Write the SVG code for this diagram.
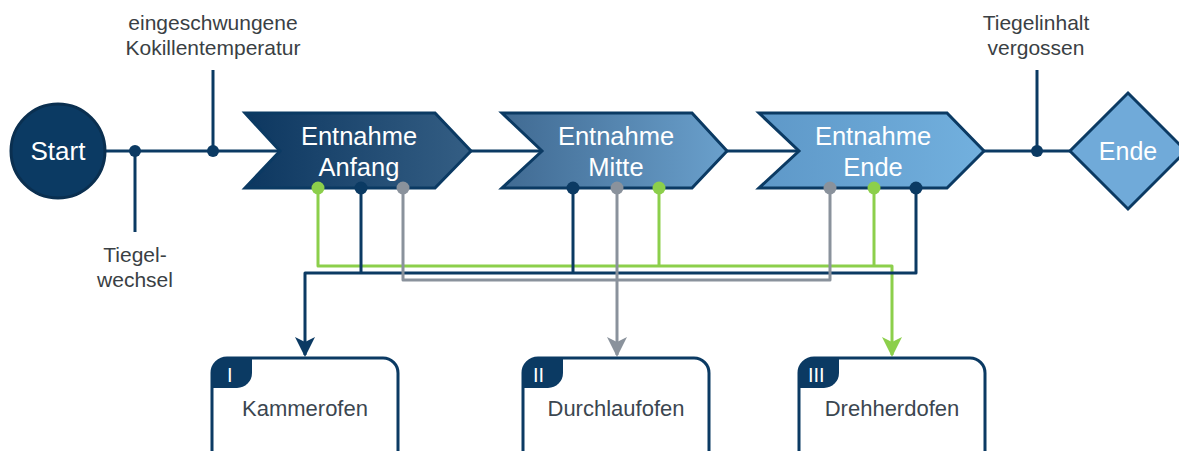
<svg xmlns="http://www.w3.org/2000/svg" width="1179" height="451" viewBox="0 0 1179 451">
  <defs>
    <linearGradient id="g1" x1="0" y1="0" x2="1" y2="0">
      <stop offset="0" stop-color="#0d3760"/>
      <stop offset="1" stop-color="#345e84"/>
    </linearGradient>
    <linearGradient id="g2" x1="0" y1="0" x2="1" y2="0">
      <stop offset="0" stop-color="#406a92"/>
      <stop offset="1" stop-color="#6aa0cc"/>
    </linearGradient>
    <linearGradient id="g3" x1="0" y1="0" x2="1" y2="0">
      <stop offset="0" stop-color="#5e98c8"/>
      <stop offset="1" stop-color="#72b0de"/>
    </linearGradient>
    <marker id="arrDark" viewBox="0 0 20 20" refX="18" refY="10" markerWidth="20" markerHeight="20" markerUnits="userSpaceOnUse" orient="auto">
      <path d="M0,0 L20,10 L0,20 L5,10 Z" fill="#0b3a63"/>
    </marker>
    <marker id="arrGray" viewBox="0 0 20 20" refX="18" refY="10" markerWidth="20" markerHeight="20" markerUnits="userSpaceOnUse" orient="auto">
      <path d="M0,0 L20,10 L0,20 L5,10 Z" fill="#8a929c"/>
    </marker>
    <marker id="arrGreen" viewBox="0 0 20 20" refX="18" refY="10" markerWidth="20" markerHeight="20" markerUnits="userSpaceOnUse" orient="auto">
      <path d="M0,0 L20,10 L0,20 L5,10 Z" fill="#8ccf4b"/>
    </marker>
  </defs>
  <style>
    .line { fill: none; stroke-width: 3; stroke-linejoin: round; }
    .dark { stroke: #0b3a63; }
    .gray { stroke: #8a929c; }
    .green { stroke: #8ccf4b; }
    .dotDark { fill: #0b3a63; }
    .dotGray { fill: #8a929c; }
    .dotGreen { fill: #8ccf4b; }
    .shape { stroke: #0b3a63; stroke-width: 3; stroke-linejoin: miter; }
    .white { font-family: "Liberation Sans", Arial, sans-serif; fill: #ffffff; text-anchor: middle; }
    .title { font-size: 25.5px; }
    .label { font-family: "Liberation Sans", Arial, sans-serif; font-size: 21px; fill: #3a3f44; text-anchor: middle; }
    .box { fill: #ffffff; stroke: #0b3a63; stroke-width: 3; }
    .tag { fill: #0b3a63; }
    .tagText { font-family: "Liberation Sans", Arial, sans-serif; font-size: 20px; fill: #ffffff; }
    .boxText { font-family: "Liberation Sans", Arial, sans-serif; font-size: 22px; fill: #3b4650; text-anchor: middle; }
  </style>

  <!-- connectors -->
  <g id="connectors">
    <!-- main flow line -->
    <line class="line dark" x1="100" y1="151" x2="280" y2="151"/>
    <line class="line dark" x1="471" y1="151" x2="542" y2="151"/>
    <line class="line dark" x1="727" y1="151" x2="799" y2="151"/>
    <line class="line dark" x1="984" y1="151" x2="1070" y2="151"/>
    <!-- event branches -->
    <line class="line dark" x1="135" y1="151" x2="135" y2="232"/>
    <line class="line dark" x1="213" y1="151" x2="213" y2="70"/>
    <line class="line dark" x1="1037" y1="151" x2="1037" y2="70"/>
    <circle class="dotDark" cx="135" cy="151" r="6"/>
    <circle class="dotDark" cx="213" cy="151" r="6"/>
    <circle class="dotDark" cx="1037" cy="151" r="6"/>

    <!-- green routing to Drehherdofen -->
    <path class="line green" d="M318,188 V266 H892 V355" marker-end="url(#arrGreen)"/>
    <path class="line green" d="M659,188 V266"/>
    <path class="line green" d="M874,188 V266"/>
    <!-- dark routing to Kammerofen -->
    <path class="line dark" d="M916,188 V273 H305 V355" marker-end="url(#arrDark)"/>
    <path class="line dark" d="M361,188 V273"/>
    <path class="line dark" d="M573,188 V273"/>
    <!-- gray routing to Durchlaufofen -->
    <path class="line gray" d="M403,188 V280 H830 V188"/>
    <path class="line gray" d="M617,188 V355" marker-end="url(#arrGray)"/>
  </g>

  <!-- event labels -->
  <g id="labels">
    <text class="label" x="213" y="30">eingeschwungene</text>
    <text class="label" x="213" y="55">Kokillentemperatur</text>
    <text class="label" x="135" y="262">Tiegel-</text>
    <text class="label" x="135" y="287">wechsel</text>
    <text class="label" x="1036" y="30">Tiegelinhalt</text>
    <text class="label" x="1036" y="55">vergossen</text>
  </g>

  <g id="start">
    <circle cx="58" cy="151" r="47" fill="#0b3a63" stroke="#0a2f50" stroke-width="3"/>
    <text class="white" x="58" y="160" font-size="26">Start</text>
  </g>

  <g id="entnahme-anfang">
    <path class="shape" fill="url(#g1)" d="M245,113 H435 L471,151 L435,188 H245 L280,151 Z"/>
    <text class="white title" x="359" y="145">Entnahme</text>
    <text class="white title" x="359" y="176">Anfang</text>
  </g>

  <g id="entnahme-mitte">
    <path class="shape" fill="url(#g2)" d="M502,113 H692 L727,151 L692,188 H502 L542,151 Z"/>
    <text class="white title" x="616" y="145">Entnahme</text>
    <text class="white title" x="616" y="176">Mitte</text>
  </g>

  <g id="entnahme-ende">
    <path class="shape" fill="url(#g3)" d="M759,113 H947 L984,151 L947,188 H759 L799,151 Z"/>
    <text class="white title" x="873" y="145">Entnahme</text>
    <text class="white title" x="873" y="176">Ende</text>
  </g>

  <g id="ende">
    <path class="shape" fill="#70aad9" d="M1128,93 L1186,151 L1128,209 L1070,151 Z"/>
    <text class="white" x="1128" y="160" font-size="25">Ende</text>
  </g>

  <!-- attachment points on the lower edges of the steps -->
  <g id="ports">
    <circle class="dotGreen" cx="318" cy="188" r="6.5"/>
    <circle class="dotDark" cx="361" cy="188" r="6.5"/>
    <circle class="dotGray" cx="403" cy="188" r="6.5"/>
    <circle class="dotDark" cx="573" cy="188" r="6.5"/>
    <circle class="dotGray" cx="617" cy="188" r="6.5"/>
    <circle class="dotGreen" cx="659" cy="188" r="6.5"/>
    <circle class="dotGray" cx="830" cy="188" r="6.5"/>
    <circle class="dotGreen" cx="874" cy="188" r="6.5"/>
    <circle class="dotDark" cx="916" cy="188" r="6.5"/>
  </g>

  <g id="kammerofen">
    <rect class="box" x="212" y="358" width="186" height="110" rx="15"/>
    <path class="tag" d="M212,388 V373 A15,15 0 0 1 227,358 H252 V373 A15,15 0 0 1 237,388 Z"/>
    <text class="tagText" x="227" y="382">I</text>
    <text class="boxText" x="305" y="416">Kammerofen</text>
  </g>

  <g id="durchlaufofen">
    <rect class="box" x="523" y="358" width="186" height="110" rx="15"/>
    <path class="tag" d="M523,388 V373 A15,15 0 0 1 538,358 H563 V373 A15,15 0 0 1 548,388 Z"/>
    <text class="tagText" x="533" y="382">II</text>
    <text class="boxText" x="616" y="416">Durchlaufofen</text>
  </g>

  <g id="drehherdofen">
    <rect class="box" x="799" y="358" width="186" height="110" rx="15"/>
    <path class="tag" d="M799,388 V373 A15,15 0 0 1 814,358 H839 V373 A15,15 0 0 1 824,388 Z"/>
    <text class="tagText" x="808" y="382">III</text>
    <text class="boxText" x="892" y="416">Drehherdofen</text>
  </g>
</svg>
